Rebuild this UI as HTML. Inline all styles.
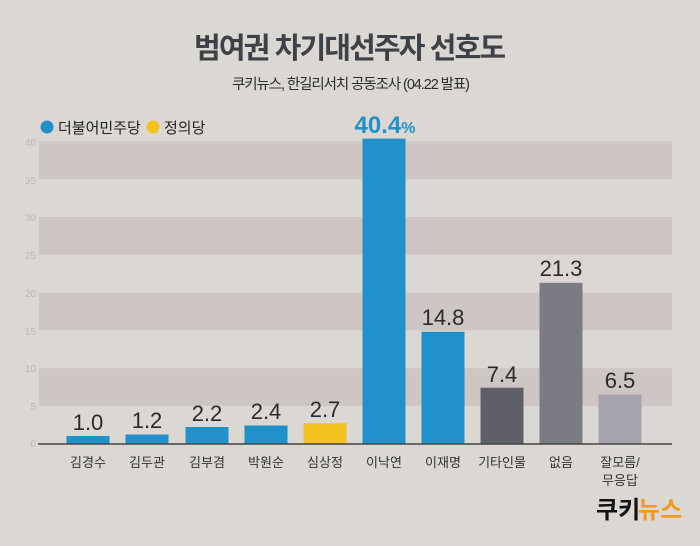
<!DOCTYPE html>
<html><head><meta charset="utf-8"><style>
body{margin:0;width:700px;height:541px;background:#dbd8d4;overflow:hidden;font-family:"Liberation Sans","Noto Sans CJK KR",sans-serif;}
</style></head><body>
<svg width="700" height="541" xmlns="http://www.w3.org/2000/svg" style="font-family:'Liberation Sans','Noto Sans CJK KR',sans-serif">
<rect width="700" height="541" fill="#dbd8d4"/>
<text x="350" y="58" text-anchor="middle" font-size="29" font-weight="bold" fill="#3e4145" textLength="312">범여권 차기대선주자 선호도</text>
<text x="351" y="89" text-anchor="middle" font-size="14.5" fill="#2b2b2b" textLength="238">쿠키뉴스, 한길리서치 공동조사 (04.22 발표)</text>
<circle cx="47" cy="127" r="6.5" fill="#2191c9"/>
<text x="58" y="133" font-size="15" fill="#222">더불어민주당</text>
<circle cx="153" cy="127" r="6.5" fill="#f4c21f"/>
<text x="164" y="133" font-size="15" fill="#222">정의당</text>
<g fill="#cec6c2">
<rect x="39" y="141.5" width="633" height="37.8"/>
<rect x="39" y="217" width="633" height="37.8"/>
<rect x="39" y="292.6" width="633" height="37.8"/>
<rect x="39" y="368.2" width="633" height="37.8"/>
</g>
<g font-size="10" fill="#bdb9b6" text-anchor="end">
<text x="36" y="146">40</text><text x="36" y="184">35</text><text x="36" y="221">30</text>
<text x="36" y="259">25</text><text x="36" y="297">20</text><text x="36" y="335">15</text>
<text x="36" y="372">10</text><text x="36" y="410">5</text><text x="36" y="447">0</text>
</g>
<g>
<rect x="66.5" y="436" width="43" height="7.6" fill="#2191c9"/>
<rect x="125.5" y="434.5" width="43" height="9.1" fill="#2191c9"/>
<rect x="185.5" y="427" width="43" height="16.6" fill="#2191c9"/>
<rect x="244.5" y="425.5" width="43" height="18.1" fill="#2191c9"/>
<rect x="303.5" y="423.2" width="43" height="20.4" fill="#f4c21f"/>
<rect x="362.5" y="138.6" width="43" height="305" fill="#2191c9"/>
<rect x="421.5" y="331.8" width="43" height="111.8" fill="#2191c9"/>
<rect x="480.5" y="387.7" width="43" height="55.9" fill="#5f5f69"/>
<rect x="539.5" y="282.8" width="43" height="160.8" fill="#7b7b84"/>
<rect x="598.5" y="394.5" width="43" height="49.1" fill="#a4a3ae"/>
</g>
<line x1="38" y1="444" x2="672" y2="444" stroke="#444" stroke-width="1.5"/>
<g font-size="22" fill="#2a2a2a" text-anchor="middle">
<text x="88" y="430">1.0</text><text x="147" y="428">1.2</text><text x="207" y="421">2.2</text>
<text x="266" y="419">2.4</text><text x="325" y="417">2.7</text>
<text x="443" y="325">14.8</text><text x="502" y="382">7.4</text><text x="561" y="276">21.3</text>
<text x="620" y="388">6.5</text>
</g>
<text x="385" y="133" text-anchor="middle" font-size="24" font-weight="bold" fill="#2191c9">40.4<tspan font-size="16">%</tspan></text>
<g font-size="13" fill="#333" text-anchor="middle">
<text x="88" y="467">김경수</text><text x="147" y="467">김두관</text><text x="207" y="467">김부겸</text>
<text x="266" y="467">박원순</text><text x="325" y="467">심상정</text><text x="384" y="467">이낙연</text>
<text x="443" y="467">이재명</text><text x="502" y="467">기타인물</text><text x="561" y="467">없음</text>
<text x="620" y="467">잘모름/</text><text x="620" y="485">무응답</text>
</g>
<text x="596" y="518" font-size="24" font-weight="bold" fill="#111">쿠키</text>
<text x="638" y="518" font-size="24" font-weight="bold" fill="#f29a1c">뉴스</text>
</svg>
</body></html>
